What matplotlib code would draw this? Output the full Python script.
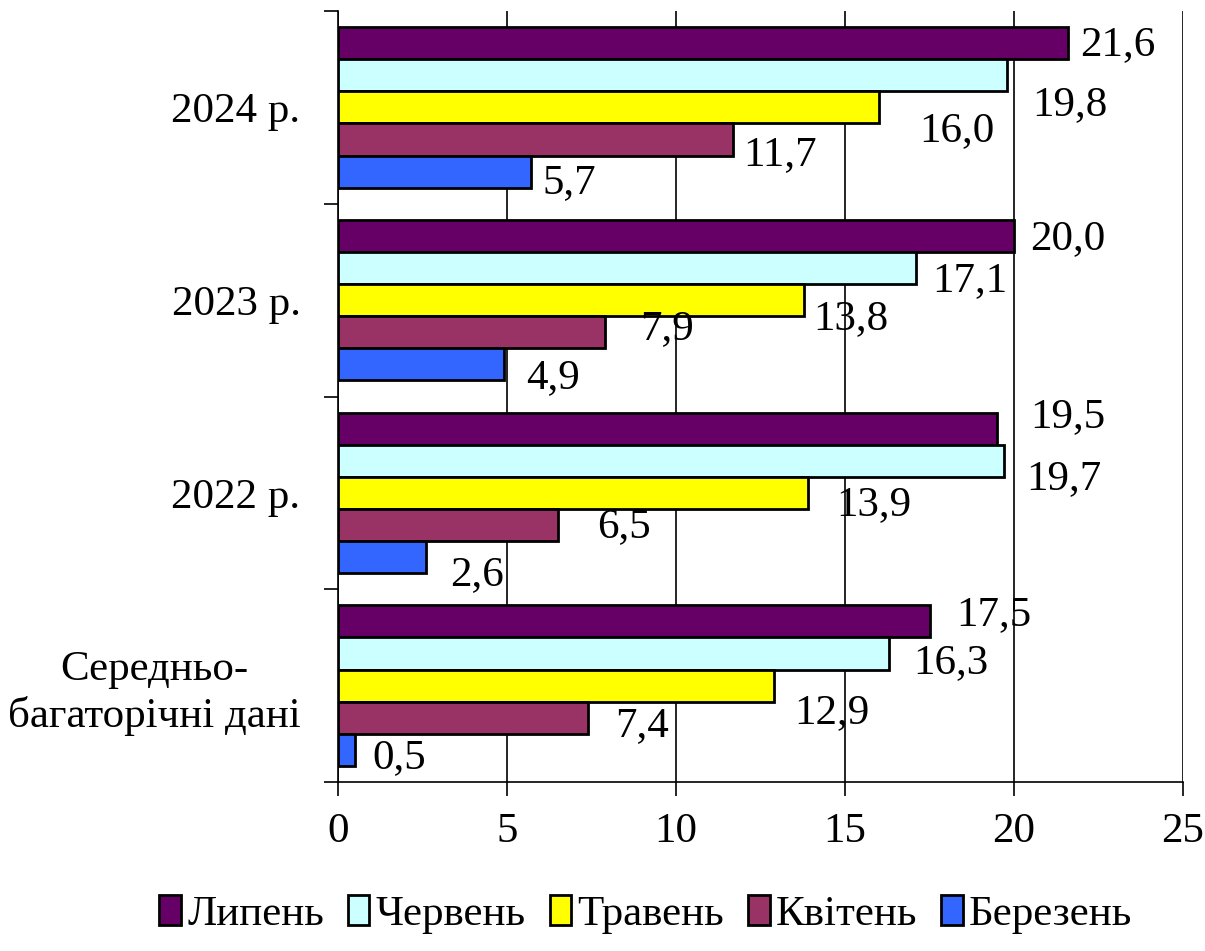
import matplotlib

matplotlib.use("Agg")
import matplotlib.pyplot as plt
import numpy as np

plt.rcParams["font.family"] = ["Liberation Serif", "DejaVu Serif"]

# ==================== Data ====================
categories = ["Середньо-\nбагаторічні дані", "2022 р.", "2023 р.", "2024 р."]
months = ["Липень", "Червень", "Травень", "Квітень", "Березень"]
colors = ["#660066", "#CCFFFF", "#FFFF00", "#993366", "#3366FF"]

# values per month, in category order (mean, 2022, 2023, 2024)
lypen = [17.5, 19.5, 20.0, 21.6]
cherven = [16.3, 19.7, 17.1, 19.8]
traven = [12.9, 13.9, 13.8, 16.0]
kviten = [7.4, 6.5, 7.9, 11.7]
berezen = [0.5, 2.6, 4.9, 5.7]
series = [lypen, cherven, traven, kviten, berezen]

# label offsets in pixels (dx from bar end to text left, dy downward from bar centre)
label_dx = [
    [27, 33, 16, 12],
    [24, 22, 16, 25],
    [20, 28, 9, 40],
    [27, 39, 35, 10],
    [17, 24, 23, 12],
]
label_dy = [
    [-7, -12, 3, 2],
    [9, 18, 13, 30],
    [27, 12, 19, 23],
    [8, 2, -3, 15],
    [8, 18, 13, 11],
]

FS = 31

# ==================== Plot ====================
fig = plt.figure(figsize=(12.05, 9.51), dpi=100)
ax = fig.add_axes([338 / 1205, 1 - 782 / 951, (1183 - 338) / 1205, (782 - 11) / 951])

h = 1 / 6
y = np.arange(len(categories))
for i, (name, vals, col) in enumerate(zip(months, series, colors)):
    pos = y + (2 - i) * h
    ax.barh(pos, vals, height=h, color=col, edgecolor="black", linewidth=2,
            label=name, zorder=3)
    for j, v in enumerate(vals):
        ax.annotate(
            f"{v:.1f}".replace(".", ","),
            xy=(v, pos[j]),
            xytext=(label_dx[i][j], -label_dy[i][j]),
            textcoords="offset pixels",
            ha="left",
            va="center",
            fontsize=FS,
            zorder=4,
        )

ax.set_xlim(0, 25)
ax.set_ylim(-0.5, 3.5)
ax.set_xticks(np.arange(0, 26, 5))
ax.tick_params(axis="x", labelsize=FS, length=10, width=1.2, pad=12, direction="out")
ax.xaxis.grid(True, color="black", linewidth=1.2, zorder=0)

ax.set_yticks(y)
ax.set_yticklabels(categories, multialignment="center")
ax.set_yticks(np.arange(-0.5, 3.6, 1), minor=True)
ax.tick_params(axis="y", which="major", length=0, labelsize=FS, pad=27)
ax.tick_params(axis="y", which="minor", length=10, width=1.2)

for side in ["top", "right"]:
    ax.spines[side].set_visible(False)
ax.spines["left"].set_linewidth(1.2)
ax.spines["bottom"].set_linewidth(1.2)

fig.legend(
    loc="center",
    bbox_to_anchor=(0.536, 0.038),
    ncol=5,
    frameon=False,
    fontsize=FS,
    handlelength=0.5,
    handleheight=0.7,
    handletextpad=0.15,
    columnspacing=0.55,
)

fig.savefig("out.png", dpi=100)
plt.close(fig)
